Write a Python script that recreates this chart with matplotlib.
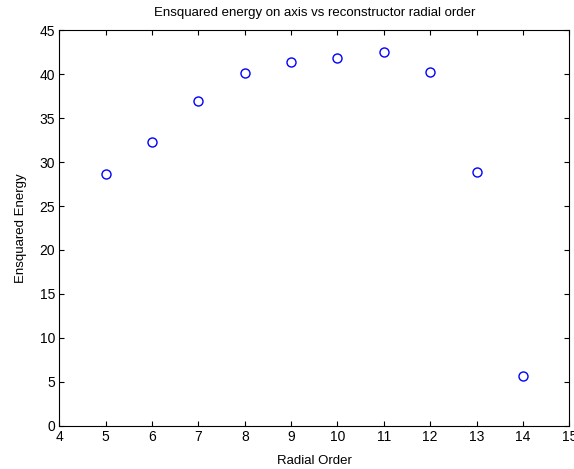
import matplotlib
matplotlib.use("Agg")
import matplotlib.pyplot as plt

radial_order = [5, 6, 7, 8, 9, 10, 11, 12, 13, 14]
ensquared_energy = [28.6, 32.3, 36.9, 40.1, 41.4, 41.9, 42.5, 40.2, 28.9, 5.7]
xticks = list(range(4, 16))
yticks = list(range(0, 50, 5))

plt.rcParams['font.family'] = ['Liberation Sans', 'DejaVu Sans']
plt.rcParams['font.size'] = 9

fig = plt.figure(figsize=(5.74, 4.69), dpi=100)
L, R, T, B = 59.3, 569.3, 30.3, 425.7
ax = fig.add_axes([L/574, 1 - B/469, (R-L)/574, (B-T)/469])
ax.plot(radial_order, ensquared_energy, linestyle='none', marker='o',
        markersize=6.5, markerfacecolor='none', markeredgecolor='#0000ff', markeredgewidth=1.0)
ax.set_xlim(4, 15)
ax.set_ylim(0, 45)
ax.set_xticks(xticks)
ax.set_yticks(yticks)
ax.tick_params(direction='in', top=True, right=True, length=3.5, width=0.8, labelsize=10, pad=3)
for s in ax.spines.values():
    s.set_linewidth(0.8)
ax.set_xlabel('Radial Order', fontsize=9.5, labelpad=8)
ax.set_ylabel('Ensquared Energy', fontsize=9.5, labelpad=9)
ax.set_title('Ensquared energy on axis vs reconstructor radial order', fontsize=9.5, pad=10)
fig.savefig('out.png', dpi=100)
